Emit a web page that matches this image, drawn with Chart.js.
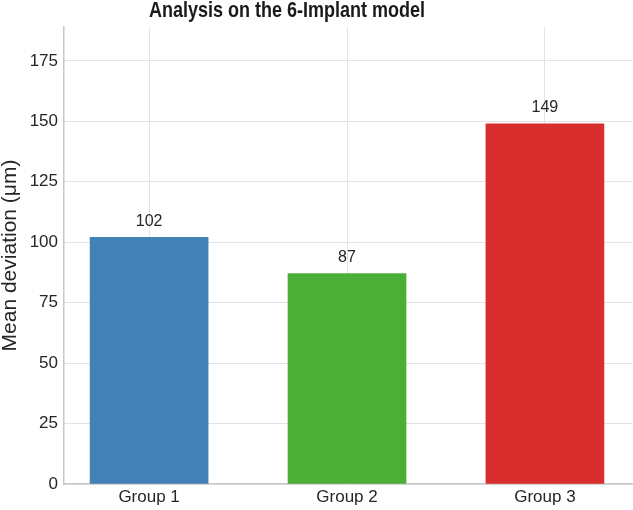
<!DOCTYPE html>
<html>
<head>
<meta charset="utf-8">
<script src="https://cdn.jsdelivr.net/npm/chart.js@4"></script>
<style>
  html, body { margin: 0; padding: 0; background: #fff; }
  #wrap { width: 633px; height: 510px; }
</style>
</head>
<body>
<div id="wrap"><canvas id="chart"></canvas></div>
<script>
const groups = ["Group 1", "Group 2", "Group 3"];
const meanDeviation = [102, 87, 149];
const barColors = ["#4381b7", "#4bae37", "#d92e2e"];
const yTicks = [0, 25, 50, 75, 100, 125, 150, 175];

const titleText = "Analysis on the 6-Implant model";
const yTitle = "Mean deviation (μm)";

// the original title uses a narrow bold face; squeeze Liberation Sans to fit
const titlePlugin = {
  id: "topTitle",
  afterDraw(chart) {
    const ctx = chart.ctx;
    ctx.save();
    ctx.font = "bold 22px 'Liberation Sans', Arial, sans-serif";
    ctx.fillStyle = "#1a1a1a";
    ctx.textAlign = "center";
    ctx.textBaseline = "alphabetic";
    const w = ctx.measureText(titleText).width;
    const sx = 276 / w;
    ctx.translate(287, 17);
    ctx.scale(sx, 1);
    ctx.fillText(titleText, 0, 0);
    ctx.restore();
  }
};

const valueLabels = {
  id: "valueLabels",
  afterDatasetsDraw(chart) {
    const ctx = chart.ctx;
    const meta = chart.getDatasetMeta(0);
    ctx.save();
    ctx.font = "16px 'Liberation Sans', Arial, sans-serif";
    ctx.fillStyle = "#262626";
    ctx.textAlign = "center";
    ctx.textBaseline = "middle";
    meta.data.forEach((bar, i) => {
      ctx.fillText(String(meanDeviation[i]), bar.x, bar.y - 16);
    });
    ctx.restore();
  }
};

const ctx = document.getElementById("chart").getContext("2d");
new Chart(ctx, {
  type: "bar",
  data: {
    datasets: [{
      data: groups.map((g, i) => ({ x: i, y: meanDeviation[i] })),
      backgroundColor: barColors,
      borderWidth: 0,
      barThickness: 118
    }]
  },
  options: {
    responsive: true,
    maintainAspectRatio: false,
    animation: false,
    layout: { padding: { top: 27, right: 1, left: 0, bottom: 0 } },
    plugins: {
      legend: { display: false },
      tooltip: { enabled: false },
      title: { display: false }
    },
    scales: {
      x: {
        type: "linear",
        min: -0.43,
        max: 2.44,
        offset: false,
        afterBuildTicks: scale => {
          scale.ticks = groups.map((g, i) => ({ value: i }));
        },
        afterFit: scale => { scale.height = 26; },
        ticks: {
          padding: 3,
          color: "#262626",
          font: { size: 17, family: "'Liberation Sans', Arial, sans-serif" },
          callback: v => groups[v]
        },
        grid: { color: "#e3e3e3", lineWidth: 1, drawTicks: false, offset: false },
        border: { color: "#c8c8c8", width: 1.5 }
      },
      y: {
        min: 0,
        max: 189,
        afterBuildTicks: scale => {
          scale.ticks = yTicks.map(v => ({ value: v }));
        },
        afterFit: scale => { scale.width = 64; },
        ticks: {
          padding: 6,
          color: "#262626",
          font: { size: 17, family: "'Liberation Sans', Arial, sans-serif" }
        },
        grid: { color: "#e3e3e3", lineWidth: 1, drawTicks: false },
        border: { color: "#c8c8c8", width: 1.5 },
        title: {
          display: true,
          text: yTitle,
          color: "#262626",
          padding: 0,
          font: { size: 21, family: "'Liberation Sans', Arial, sans-serif", lineHeight: 1 }
        }
      }
    }
  },
  plugins: [titlePlugin, valueLabels]
});
</script>
</body>
</html>
